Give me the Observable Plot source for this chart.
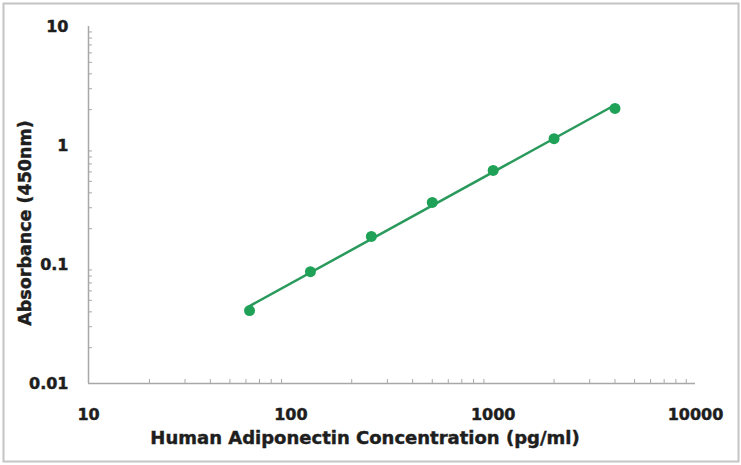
<!DOCTYPE html>
<html>
<head>
<meta charset="utf-8">
<script src="https://cdn.jsdelivr.net/npm/d3@7"></script>
<script src="https://cdn.jsdelivr.net/npm/@observablehq/plot@0.6"></script>
<style>
  html, body { margin: 0; padding: 0; background: #fff; }
  svg { display: block; }
  svg text { stroke: #1e1e1e; stroke-width: 0.45px; }
</style>
</head>
<body>
<div id="chart"></div>
<script>
// Data
const concentration = [62.5, 125, 250, 500, 1000, 2000, 4000];
const absorbance = [0.041, 0.087, 0.172, 0.332, 0.617, 1.14, 2.05];
const xTicks = [10, 100, 1000, 10000];
const yTicks = [0.01, 0.1, 1, 10];
const xTitle = "Human Adiponectin Concentration (pg/ml)";
const yTitle = "Absorbance (450nm)";

const points = concentration.map((c, i) => ({c, a: absorbance[i]}));

// power-law trend line (least squares in log–log space) from the data
const lx = concentration.map(Math.log10), ly = absorbance.map(Math.log10);
const mx = d3.mean(lx), my = d3.mean(ly);
const slope = d3.sum(lx, (v, i) => (v - mx) * (ly[i] - my)) / d3.sum(lx, v => (v - mx) ** 2);
const icpt = my - slope * mx;
const xEnds = [d3.min(concentration), d3.max(concentration)];
const fit = xEnds.map(c => ({c, a: Math.pow(10, icpt + slope * Math.log10(c))}));

function minors(lo, hi) {
  const out = [];
  for (let d = lo; d < hi; d *= 10) for (let k = 2; k <= 9; k++) out.push(+(d * k).toPrecision(3));
  return out;
}

const font = "'DejaVu Sans', 'Liberation Sans', sans-serif";
const green = "#1fa258";
const axisGray = "#a8a8a8";

const chart = Plot.plot({
  width: 741,
  height: 465,
  marginLeft: 88,
  marginRight: 46,
  marginTop: 26,
  marginBottom: 82,
  style: {fontFamily: font, background: "#fff"},
  x: {type: "log", domain: [10, 10000]},
  y: {type: "log", domain: [0.01, 10]},
  marks: [
    Plot.frame({insetLeft: -85, insetTop: -23, insetRight: -43, insetBottom: -78, stroke: "#c4c4c4", strokeWidth: 2}),
    // minor ticks pointing inward
    Plot.axisY({ticks: minors(0.01, 10), tickSize: -4, tickFormat: () => "", stroke: axisGray, label: null}),
    Plot.axisX({ticks: minors(10, 10000), tickSize: -4, tickFormat: () => "", stroke: axisGray, label: null}),
    Plot.axisY({ticks: yTicks, tickSize: 0, tickPadding: 20, tickFormat: d => String(d),
      fontSize: 16, fontWeight: "bold", fill: "#1e1e1e", label: null}),
    Plot.axisX({ticks: xTicks, tickSize: 0, tickPadding: 25, tickFormat: d => String(d),
      fontSize: 16, fontWeight: "bold", fill: "#1e1e1e", label: null}),
    Plot.ruleX([10], {stroke: axisGray, strokeWidth: 1.5}),
    Plot.ruleY([0.01], {stroke: axisGray, strokeWidth: 1.5}),
    Plot.line(fit, {x: "c", y: "a", stroke: "#2a9a5c", strokeWidth: 2.5}),
    Plot.dot(points, {x: "c", y: "a", r: 5.5, fill: green, stroke: "none"}),
    Plot.text([xTitle], {frameAnchor: "bottom", textAnchor: "middle", dy: 60, dx: -27, fontSize: 18, fontWeight: "bold", fill: "#1e1e1e"}),
    Plot.text([yTitle], {frameAnchor: "left", textAnchor: "middle", dx: -63, dy: 18, rotate: -90, fontSize: 17.5, fontWeight: "bold", fill: "#1e1e1e"})
  ]
});
document.getElementById("chart").appendChild(chart);
</script>
</body>
</html>
